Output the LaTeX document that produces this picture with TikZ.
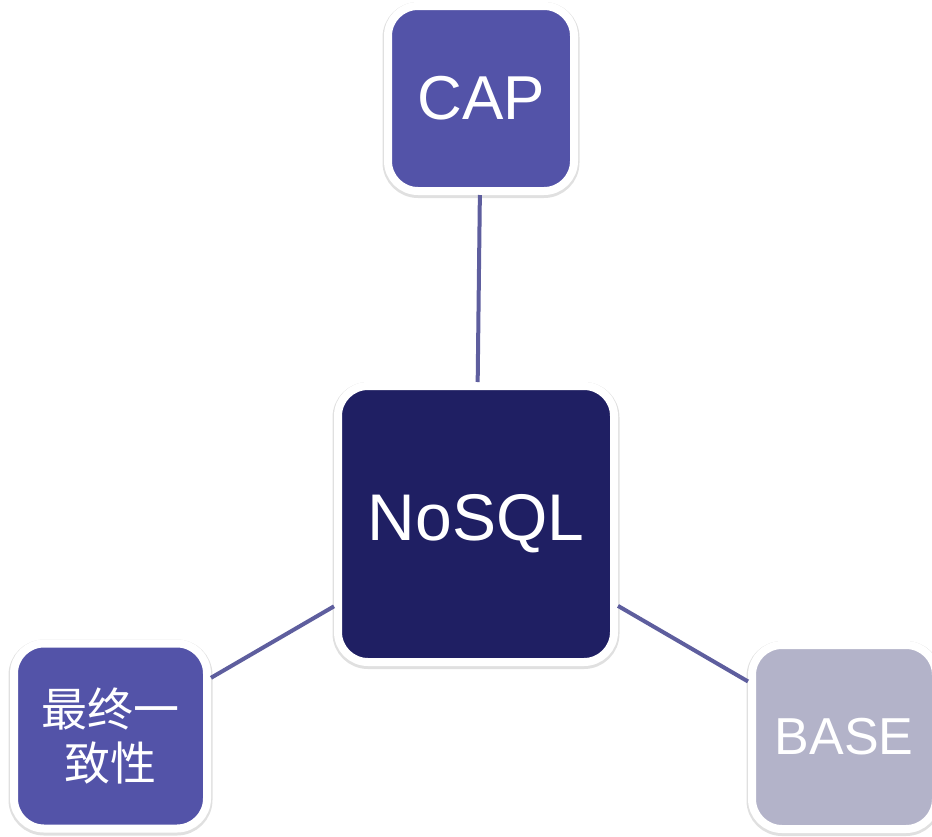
\documentclass[tikz,border=0pt]{standalone}
\usepackage{fontspec}
\setmainfont{Liberation Sans}
\newfontfamily\cjk{Noto Sans CJK SC}
\definecolor{capblue}{RGB}{83,83,168}
\definecolor{navy}{RGB}{31,31,99}
\definecolor{lav}{RGB}{179,179,201}
\definecolor{linkc}{RGB}{94,94,158}
\tikzset{
  boxnode/.style={draw=white, line width=8pt, rounded corners=30pt, outer sep=4pt,
    text=white, align=center, inner sep=0pt,
    preaction={draw=black, draw opacity=0.12, line width=11pt, transform canvas={yshift=-1.5pt}}},
  link/.style={draw=linkc, line width=4pt}
}
\begin{document}
\begin{tikzpicture}[x=1pt,y=-1pt]
\useasboundingbox (0,0) rectangle (932,836);
\node[boxnode, fill=navy, minimum width=276pt, minimum height=276pt,
  font=\fontsize{66}{70}\selectfont] (nosql) at (476,524) {NoSQL};
\node[boxnode, fill=capblue, minimum width=186pt, minimum height=185pt,
  font=\fontsize{62}{66}\selectfont] (cap) at (481,98.5) {CAP};
\node[boxnode, fill=capblue, minimum width=193pt, minimum height=185pt,
  font=\cjk\fontsize{46}{54}\selectfont] (ev) at (110.5,736) {最终一\\致性};
\node[boxnode, fill=lav, minimum width=184pt, minimum height=184pt,
  font=\fontsize{52}{56}\selectfont] (base) at (844,737) {BASE};
\draw[link] (cap) -- (nosql);
\draw[link] (nosql) -- (ev);
\draw[link] (nosql) -- (base);
\end{tikzpicture}
\end{document}
